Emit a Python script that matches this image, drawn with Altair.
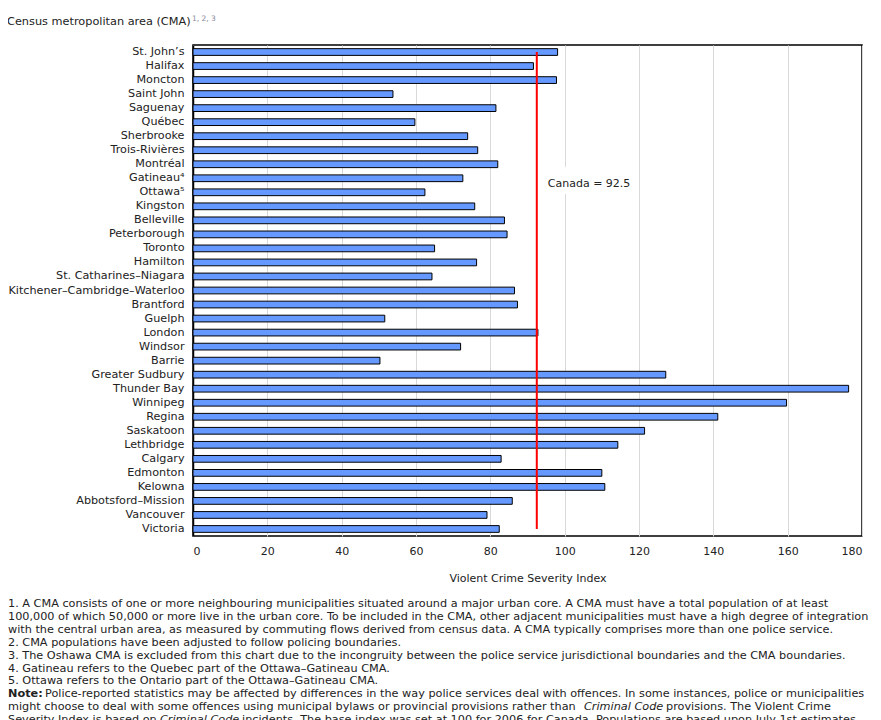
import altair as alt
import pandas as pd

cmas = ["St. John’s", "Halifax", "Moncton", "Saint John", "Saguenay", "Québec",
        "Sherbrooke", "Trois-Rivières", "Montréal", "Gatineau⁴", "Ottawa⁵", "Kingston",
        "Belleville", "Peterborough", "Toronto", "Hamilton", "St. Catharines–Niagara",
        "Kitchener–Cambridge–Waterloo", "Brantford", "Guelph", "London", "Windsor",
        "Barrie", "Greater Sudbury", "Thunder Bay", "Winnipeg", "Regina", "Saskatoon",
        "Lethbridge", "Calgary", "Edmonton", "Kelowna", "Abbotsford–Mission",
        "Vancouver", "Victoria"]
values = [98.1, 91.6, 97.8, 53.8, 81.5, 59.7, 73.9, 76.6, 82.0, 72.6, 62.4, 75.8,
          83.8, 84.5, 65.0, 76.3, 64.3, 86.5, 87.3, 51.6, 92.8, 72.0, 50.3, 127.2,
          176.4, 159.7, 141.2, 121.5, 114.3, 82.9, 110.0, 110.8, 85.9, 79.1, 82.4]
canada_value = 92.5
canada_label = "Canada = 92.5"
x_ticks = [0, 20, 40, 60, 80, 100, 120, 140, 160, 180]
y_title = "Census metropolitan area (CMA)"
y_title_sup = "1, 2, 3"
x_title = "Violent Crime Severity Index"

footnotes = [
    "1. A CMA consists of one or more neighbouring municipalities situated around a major urban core. A CMA must have a total population of at least",
    "100,000 of which 50,000 or more live in the urban core. To be included in the CMA, other adjacent municipalities must have a high degree of integration",
    "with the central urban area, as measured by commuting flows derived from census data. A CMA typically comprises more than one police service.",
    "2. CMA populations have been adjusted to follow policing boundaries.",
    "3. The Oshawa CMA is excluded from this chart due to the incongruity between the police service jurisdictional boundaries and the CMA boundaries.",
    "4. Gatineau refers to the Quebec part of the Ottawa–Gatineau CMA.",
    "5. Ottawa refers to the Ontario part of the Ottawa–Gatineau CMA.",
]
note_lines = [
    [("Note:", "bold", "normal"), ("Police-reported statistics may be affected by differences in the way police services deal with offences. In some instances, police or municipalities", "normal", "normal")],
    [("might choose to deal with some offences using municipal bylaws or provincial provisions rather than", "normal", "normal"), ("Criminal Code", "normal", "italic"), ("provisions. The Violent Crime", "normal", "normal")],
    [("Severity Index is based on", "normal", "normal"), ("Criminal Code", "normal", "italic"), ("incidents. The base index was set at 100 for 2006 for Canada. Populations are based upon July 1st estimates", "normal", "normal")],
]
# left edge of each text segment, relative to the plot's left edge
note_x = [[-185, -148], [-185, 391, 473], [-185, -33, 49]]

FONT = "DejaVu Sans"
FN_FONT = "DejaVu Sans"
FN_SIZE = 11.25

df = pd.DataFrame({"cma": cmas, "vcsi": values})

y_scale = alt.Scale(domain=cmas, paddingInner=0.52, paddingOuter=0.26)
y_enc = alt.Y("cma:N", sort=None, scale=y_scale,
              axis=alt.Axis(title=None, ticks=False, domain=True, domainColor="black",
                            domainWidth=1.5, labelFont=FONT, labelFontSize=11.2,
                            labelColor="#222", labelPadding=9, labelLimit=300))
x_enc = alt.X("vcsi:Q", scale=alt.Scale(domain=[0, 180], nice=False),
              axis=alt.Axis(values=x_ticks, title=x_title, grid=True, gridColor="#d9d9d9",
                            ticks=False, domain=False, labelFont=FONT, labelFontSize=11,
                            labelColor="#222", labelPadding=9, titleFont=FONT,
                            titleFontSize=11, titleFontWeight="normal", titleColor="#222",
                            titlePadding=16))

bars = alt.Chart(df).mark_bar(fill="#6699FF", stroke="black", strokeWidth=1).encode(
    x=x_enc, y=y_enc)

rule_df = pd.DataFrame({"x": [canada_value], "y1": [cmas[0]], "y2": [cmas[-1]],
                        "lab": [canada_label], "ylab": ["Gatineau⁴"]})
rule = alt.Chart(rule_df).mark_rule(color="#ff0000", strokeWidth=2).encode(
    x="x:Q", y=alt.Y("y1:N", sort=None, scale=y_scale), y2="y2:N")

lab_bg = alt.Chart(rule_df).mark_text(align="left", baseline="middle", dx=11, dy=6,
                                      font=FONT, fontSize=11, stroke="white",
                                      strokeWidth=14, color="white").encode(
    x="x:Q", y=alt.Y("ylab:N", sort=None, scale=y_scale), text="lab:N")
lab = alt.Chart(rule_df).mark_text(align="left", baseline="middle", dx=11, dy=6,
                                   font=FONT, fontSize=11, color="#222").encode(
    x="x:Q", y=alt.Y("ylab:N", sort=None, scale=y_scale), text="lab:N")

layers = [bars, lab_bg, lab, rule]

# y title at top left
layers.append(alt.Chart(rule_df).mark_text(align="left", baseline="middle", font=FONT,
                                           fontSize=11.3, color="#222").encode(
    x=alt.value(-186), y=alt.value(-23), text=alt.value(y_title)))
layers.append(alt.Chart(rule_df).mark_text(align="left", baseline="middle", font=FONT,
                                           fontSize=7.5, color="#8a8aa0").encode(
    x=alt.value(-1), y=alt.value(-26), text=alt.value(y_title_sup)))

# footnotes
LINE = 12.9
y0 = 559
for i, line in enumerate(footnotes):
    layers.append(alt.Chart(rule_df).mark_text(align="left", baseline="middle",
                                               font=FN_FONT, fontSize=FN_SIZE,
                                               color="#222").encode(
        x=alt.value(-185), y=alt.value(y0 + i * LINE), text=alt.value(line)))

for j, segs in enumerate(note_lines):
    for k, (t, w, s) in enumerate(segs):
        layers.append(alt.Chart(rule_df).mark_text(align="left", baseline="middle",
                                                   font=FN_FONT, fontSize=FN_SIZE,
                                                   fontWeight=w, fontStyle=s,
                                                   color="#222").encode(
            x=alt.value(note_x[j][k]), y=alt.value(y0 + (len(footnotes) + j) * LINE),
            text=alt.value(t)))

chart = alt.layer(*layers).properties(
    width=669, height=491,
    autosize=alt.AutoSizeParams(type="none"),
    padding={"left": 185, "top": 37, "right": 10, "bottom": 184},
).configure_view(stroke="black", strokeWidth=1.5)

chart.save("out.html", embed_options={"renderer": "svg", "actions": False})
